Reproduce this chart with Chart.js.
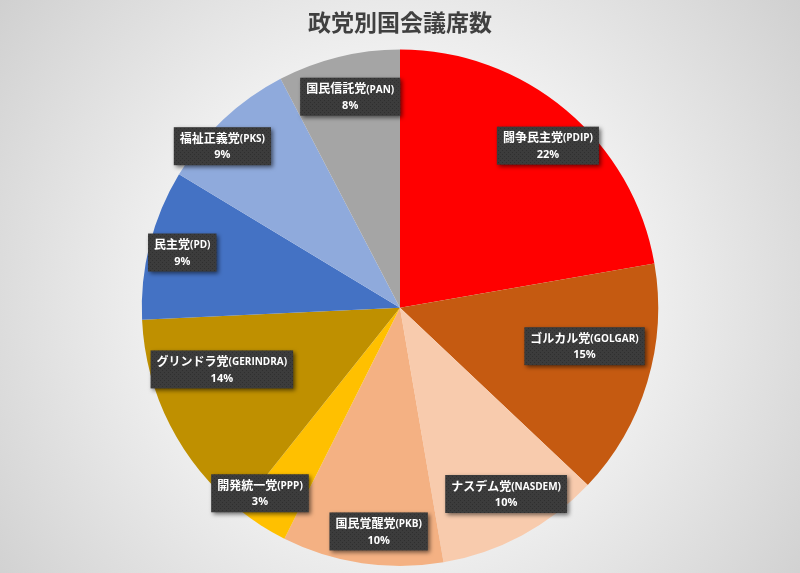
<!DOCTYPE html>
<html lang="ja">
<head>
<meta charset="utf-8">
<title>政党別国会議席数</title>
<script src="https://cdn.jsdelivr.net/npm/chart.js@4"></script>
<style>
    html, body { margin: 0; padding: 0; }
    body {
        width: 800px;
        height: 573px;
        overflow: hidden;
        background: radial-gradient(circle at 50% 52%, #ffffff 0%, #fbfbfb 30%, #d0d0d0 100%);
    }
    canvas { display: block; }
</style>
</head>
<body>
<canvas id="party-chart" width="800" height="573"></canvas>
<script>
// Parties, clockwise from the top
var partyLabels = ['闘争民主党(PDIP)', 'ゴルカル党(GOLGAR)', 'ナスデム党(NASDEM)', '国民覚醒党(PKB)',
    '開発統一党(PPP)', 'グリンドラ党(GERINDRA)', '民主党(PD)', '福祉正義党(PKS)', '国民信託党(PAN)'];
// Seats per party (shown as share of total)
var seatCounts = [128, 85, 59, 58, 19, 78, 54, 50, 44];
var sliceColors = ['#FF0000', '#C55A11', '#F8CBAD', '#F4B183', '#FFC000', '#BF9000', '#4472C4', '#8FAADC', '#A5A5A5'];

document.addEventListener('DOMContentLoaded', function() {
    var total = seatCounts.reduce(function(a, b) { return a + b; }, 0);

    // small dotted texture for the label boxes
    var tile = document.createElement('canvas');
    tile.width = 4;
    tile.height = 4;
    var tctx = tile.getContext('2d');
    tctx.fillStyle = '#3c3c3c';
    tctx.fillRect(0, 0, 4, 4);
    tctx.fillStyle = '#2f2f2f';
    tctx.fillRect(0, 0, 1, 1);
    tctx.fillRect(2, 2, 1, 1);

    // best-fit style label placement: radius fraction and angle nudge (deg)
    var labelRadius = [0.85, 0.73, 0.83, 0.87, 0.9, 0.73, 0.87, 0.93, 0.84];
    var labelShift = [2.3, -5, -1.5, -3, 4.5, 8, 0, -4.5, 0.5];

    var boxLabels = {
        id: 'boxLabels',
        afterDatasetsDraw: function(chart) {
            var ctx = chart.ctx;
            var meta = chart.getDatasetMeta(0);
            var pattern = ctx.createPattern(tile, 'repeat');
            meta.data.forEach(function(arc, i) {
                var p = arc.getProps(['x', 'y', 'startAngle', 'endAngle', 'outerRadius'], true);
                var mid = (p.startAngle + p.endAngle) / 2 + labelShift[i] * Math.PI / 180;
                var r = p.outerRadius * labelRadius[i];
                var cx = p.x + Math.cos(mid) * r;
                var cy = p.y + Math.sin(mid) * r;

                var label = chart.data.labels[i];
                var cut = label.indexOf('(');
                var name = label.slice(0, cut);
                var code = label.slice(cut);
                var pct = Math.round(seatCounts[i] / total * 100) + '%';

                var nameFont = 'bold 12px "Noto Sans CJK JP", sans-serif';
                var codeFont = 'bold 10px "Open Sans", "Noto Sans", sans-serif';
                ctx.save();
                ctx.font = nameFont;
                var w1 = ctx.measureText(name).width;
                ctx.font = codeFont;
                var w2 = ctx.measureText(code).width;
                var textW = w1 + w2;
                var boxW = textW + 12;
                var boxH = 38;
                var bx = cx - boxW / 2;
                var by = cy - boxH / 2;

                ctx.shadowColor = 'rgba(0, 0, 0, 0.55)';
                ctx.shadowBlur = 4;
                ctx.shadowOffsetX = 2;
                ctx.shadowOffsetY = 2;
                ctx.fillStyle = pattern;
                ctx.fillRect(bx, by, boxW, boxH);
                ctx.shadowColor = 'transparent';

                ctx.fillStyle = '#ffffff';
                ctx.textBaseline = 'middle';
                ctx.textAlign = 'left';
                var tx = cx - textW / 2;
                ctx.font = nameFont;
                ctx.fillText(name, tx, by + 11);
                ctx.font = codeFont;
                ctx.fillText(code, tx + w1, by + 12);
                ctx.textAlign = 'center';
                ctx.font = 'bold 11px "Open Sans", "Noto Sans", sans-serif';
                ctx.fillText(pct, cx, by + 28);
                ctx.restore();
            });
        }
    };

    var ctx = document.getElementById('party-chart').getContext('2d');
    new Chart(ctx, {
        type: 'pie',
        data: {
            labels: partyLabels,
            datasets: [{
                data: seatCounts,
                backgroundColor: sliceColors,
                borderWidth: 0
            }]
        },
        options: {
            responsive: false,
            devicePixelRatio: 1,
            animation: false,
            layout: {
                padding: { top: 0, bottom: 7, left: 0, right: 0 }
            },
            plugins: {
                legend: { display: false },
                tooltip: { enabled: false },
                title: {
                    display: true,
                    text: '政党別国会議席数',
                    color: '#404040',
                    font: { family: '"Noto Sans CJK JP", sans-serif', size: 23, weight: 'bold', lineHeight: 1.2 },
                    padding: { top: 8, bottom: 14 }
                }
            }
        },
        plugins: [boxLabels]
    });
});
</script>
</body>
</html>
